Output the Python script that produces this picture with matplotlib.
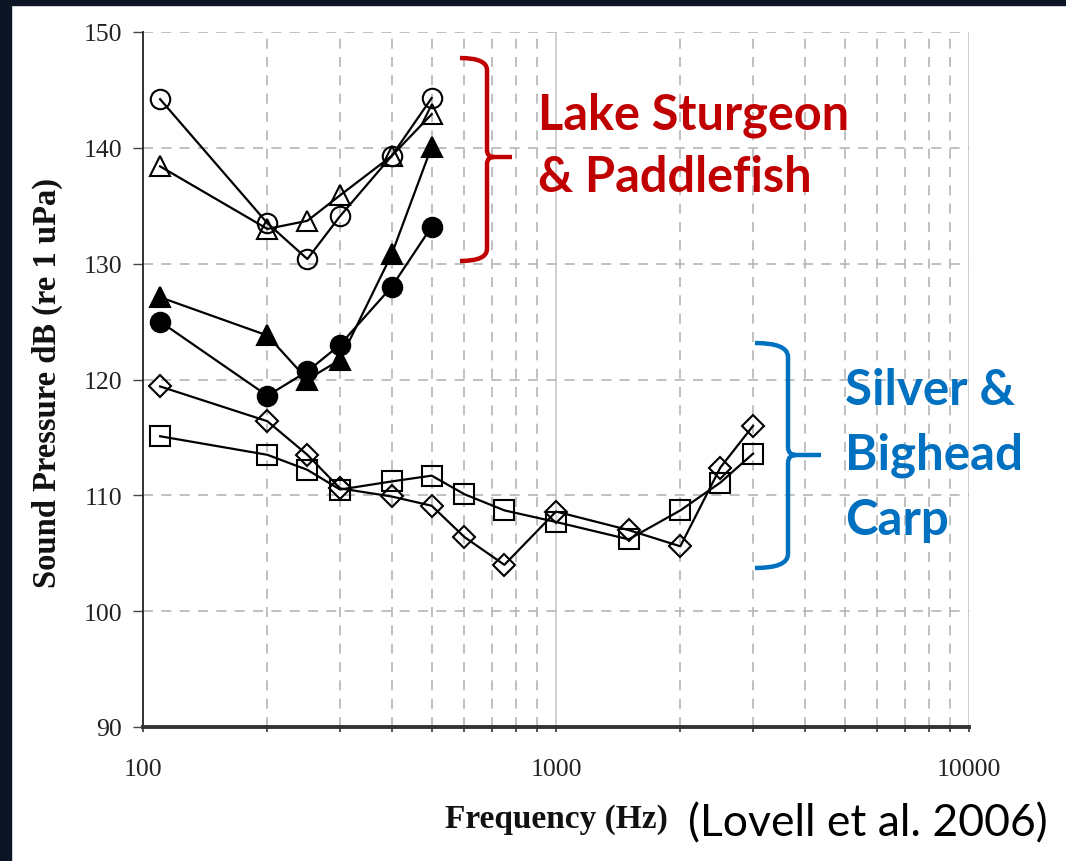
import matplotlib
matplotlib.use("Agg")
import matplotlib.pyplot as plt
from matplotlib.path import Path
from matplotlib.patches import PathPatch, Rectangle
from matplotlib.ticker import FixedLocator, NullFormatter

# ---------------- data ----------------
freq_sturgeon = [110, 200, 250, 300, 400, 500]
open_circle = [144.2, 133.5, 130.4, 134.1, 139.3, 144.3]
open_triangle = [138.4, 133.0, 133.7, 135.9, 139.3, 142.9]
filled_triangle = [127.1, 123.8, 120.0, 121.7, 130.8, 140.1]
filled_circle = [125.0, 118.6, 120.7, 123.0, 128.0, 133.2]

freq_carp = [110, 200, 250, 300, 400, 500, 600, 750, 1000, 1500, 2000, 2500, 3000]
carp_diamond = [119.4, 116.4, 113.5, 110.6, 109.9, 109.1, 106.4, 104.0, 108.6, 107.0, 105.6, 112.4, 116.0]
carp_square = [115.1, 113.5, 112.2, 110.5, 111.2, 111.7, 110.1, 108.7, 107.7, 106.2, 108.7, 111.1, 113.6]

y_ticks = [90, 100, 110, 120, 130, 140, 150]
x_major = [100, 1000, 10000]
x_major_labels = ["100", "1000", "10000"]
x_minor = [200, 300, 400, 500, 600, 700, 800, 900,
           2000, 3000, 4000, 5000, 6000, 7000, 8000, 9000]

ylabel = "Sound Pressure dB (re 1 uPa)"
xlabel = "Frequency (Hz)"
citation = "(Lovell et al. 2006)"
red_lines = ["Lake Sturgeon", "& Paddlefish"]
blue_lines = ["Silver &", "Bighead", "Carp"]

W, H = 1066, 862
fig = plt.figure(figsize=(W / 100, H / 100), dpi=100, facecolor="white")

# main axes in pixel geometry
L, R, T, B = 143, 969, 33, 728
ax = fig.add_axes([L / W, 1 - B / H, (R - L) / W, (B - T) / H])
ax.set_xscale("log")
ax.set_xlim(100, 10000)
ax.set_ylim(90, 150)

serif = ["Liberation Serif", "DejaVu Serif"]

# grid
for f in x_minor:
    ax.axvline(f, color="#b5b5b5", lw=1.2, ls=(0, (6, 5)), zorder=0)
for f in [1000, 10000]:
    ax.axvline(f, color="#c8c8c8", lw=1.2, zorder=0)
for yv in y_ticks[1:]:
    ax.axhline(yv, color="#b5b5b5", lw=1.2, ls=(0, (6, 5)), zorder=0)

lw = 1.6
mk = dict(color="black", lw=lw, markeredgewidth=1.5, zorder=3)
ax.plot(freq_sturgeon, open_circle, marker="o", ms=14, mfc="none", mec="black", **mk)
ax.plot(freq_sturgeon, open_triangle, marker="^", ms=15, mfc="none", mec="black", **mk)
ax.plot(freq_sturgeon, filled_triangle, marker="^", ms=15, mfc="black", mec="black", **mk)
ax.plot(freq_sturgeon, filled_circle, marker="o", ms=14, mfc="black", mec="black", **mk)
ax.plot(freq_carp, carp_diamond, marker="D", ms=11.5, mfc="none", mec="black", **mk)
ax.plot(freq_carp, carp_square, marker="s", ms=15, mfc="none", mec="black", **mk)

# spines
for s in ["top", "right"]:
    ax.spines[s].set_visible(False)
ax.spines["left"].set_color("#222222")
ax.spines["left"].set_linewidth(1.3)
ax.spines["bottom"].set_color("#333333")
ax.spines["bottom"].set_linewidth(2.8)

ax.yaxis.set_major_locator(FixedLocator(y_ticks))
ax.set_yticklabels([str(v) for v in y_ticks], fontfamily=serif, fontsize=18.5, color="#222222")
ax.tick_params(axis="y", direction="out", length=7, width=1, pad=8, color="#444444")

ax.xaxis.set_major_locator(FixedLocator(x_major))
ax.xaxis.set_minor_locator(FixedLocator(x_minor))
ax.xaxis.set_minor_formatter(NullFormatter())
ax.set_xticklabels(x_major_labels, fontfamily=serif, fontsize=18.5, color="#222222")
ax.tick_params(axis="x", which="both", direction="out", length=3.5, width=1.2,
               pad=19, color="#333333")

# overlay in pixel coordinates
ov = fig.add_axes([0, 0, 1, 1], facecolor="none")
ov.set_xlim(0, W)
ov.set_ylim(H, 0)
ov.axis("off")

border = "#0b1526"
ov.add_patch(Rectangle((0, 0), 11, H, color=border, zorder=10))
ov.add_patch(Rectangle((0, 0), W, 6, color=border, zorder=10))

ov.text(47, 383, ylabel, rotation=90, ha="center", va="center",
        fontfamily=serif, fontweight="bold", fontsize=23.5, color="#111111")
ov.text(556, 820, xlabel, ha="center", va="center",
        fontfamily=serif, fontweight="bold", fontsize=24, color="#111111")
ov.text(688, 824, citation, ha="left", va="center",
        fontfamily=["Lato", "DejaVu Sans"], fontsize=32, color="black")


def brace(x_end, x_spine, x_tip, y_top, y_mid, y_bot, r, rt, color):
    verts = [
        (x_end, y_top), (x_spine, y_top), (x_spine, y_top + r),
        (x_spine, y_mid - rt),
        (x_spine, y_mid), (x_spine + rt, y_mid),
        (x_tip, y_mid),
        (x_spine + rt, y_mid),
        (x_spine, y_mid), (x_spine, y_mid + rt),
        (x_spine, y_bot - r),
        (x_spine, y_bot), (x_end, y_bot),
    ]
    codes = [Path.MOVETO, Path.CURVE3, Path.CURVE3,
             Path.LINETO,
             Path.CURVE3, Path.CURVE3,
             Path.LINETO,
             Path.MOVETO,
             Path.CURVE3, Path.CURVE3,
             Path.LINETO,
             Path.CURVE3, Path.CURVE3]
    ov.add_patch(PathPatch(Path(verts, codes), fill=False, edgecolor=color,
                           lw=3.2, capstyle="butt", joinstyle="round", zorder=5))


red = "#c00000"
blue = "#0070c0"
brace(460, 487, 512, 59, 158, 262, 12, 7, red)
brace(755, 788, 821, 344, 456, 569, 14, 8, blue)

sans_b = ["Lato", "DejaVu Sans"]
for i, t in enumerate(red_lines):
    ov.text(538, 130 + i * 62, t, ha="left", va="baseline", fontfamily=sans_b,
            fontweight="bold", fontsize=35, color=red)
for i, t in enumerate(blue_lines):
    ov.text(845, 405 + i * 65, t, ha="left", va="baseline", fontfamily=sans_b,
            fontweight="bold", fontsize=35.5, color=blue)

fig.savefig("out.png", dpi=100, facecolor="white")
